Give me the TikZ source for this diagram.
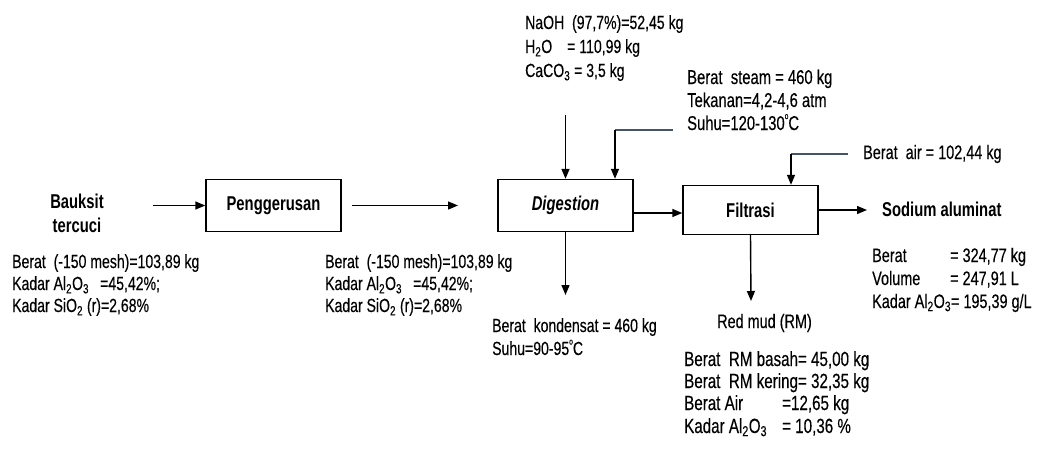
\documentclass[tikz,border=0pt]{standalone}
\usepackage{fontspec}
\setmainfont{Liberation Sans}[FakeStretch=0.74, UprightFeatures={FakeBold=0.3}]
\usetikzlibrary{arrows.meta}
\definecolor{linec}{RGB}{68,84,106}
\newcommand{\tline}[5]{\node[txt=#4] (#1) at (#2,#3) {#5};}
\newcommand{\AlO}{Al\textsubscript{2}O\textsubscript{3}}
\newcommand{\dgr}{\raisebox{0.55em}{\fontsize{9}{9}\selectfont o}}
\tikzset{
  txt/.style={anchor=base west, inner sep=0pt, font=\fontsize{#1}{22}\selectfont},
  hdr/.style={anchor=base, inner sep=0pt, font=\fontsize{20}{22}\selectfont\bfseries},
  proc/.style={draw, line width=1.4pt, minimum width=135pt, minimum height=52pt, inner sep=0pt, font=\fontsize{20}{22}\selectfont\bfseries},
  flow/.style={line width=1.4pt, -{Triangle[length=10pt,width=8pt]}},
  feed/.style={line width=1.4pt, draw=linec},
}
\begin{document}
\begin{tikzpicture}[x=1pt,y=-1pt]
\useasboundingbox[fill=white] (0,0) rectangle (1037,459);
% process boxes
\node[proc] (pg) at (273.5,205.5) {Penggerusan};
\node[proc] (dg) at (565.5,205.5) {\itshape Digestion};
\node[proc, minimum height=49pt] (fl) at (750.5,210) {Filtrasi};
% headers
\node[hdr] (bk1) at (77,208) {Bauksit};
\node[hdr] (bk2) at (77,232) {tercuci};
\node[hdr, anchor=west] (sa) at (882,209) {Sodium aluminat};
% coordinates
\coordinate (bs) at (153,205.5);
\coordinate (p1) at (352,205.5);
\coordinate (p2) at (458,205.5);
\coordinate (n1) at (565.5,115);
\coordinate (s1) at (673,130);
\coordinate (s2) at (615,130);
\coordinate (a1) at (848,154);
\coordinate (a2) at (791,154);
\coordinate (kd) at (565.5,295);
\coordinate (rmc) at (751,301);
% connectors
\draw[flow] (bs) -- (pg.west);
\draw[flow] (p1) -- (p2);
\draw[flow] (n1) -- (dg.north);
\draw[feed] (s1) -- (s2);
\draw[flow] (s2) -- (s2 |- dg.north);
\draw[flow] ([yshift=-7.5pt]dg.east) -- ([yshift=-7.5pt]dg.east -| fl.west);
\draw[feed] (a1) -- (a2);
\draw[flow] (a2) -- (a2 |- fl.north);
\draw[flow, shorten >=15pt] (fl.east) -- (fl.east -| sa.west);
\draw[flow] (dg.south) -- (kd);
\draw[flow] (fl.south) -- (rmc);
% left data
\tline{l1}{12}{268}{19}{Berat\ \ (-150 mesh)=103,89 kg}
\tline{l2}{12}{290}{19}{\makebox[88pt][l]{Kadar \AlO}=45,42\%;}
\tline{l3}{12}{312}{19}{Kadar SiO\textsubscript{2} (r)=2,68\%}
% middle data
\tline{m1}{325}{268}{19}{Berat\ \ (-150 mesh)=103,89 kg}
\tline{m2}{325}{290}{19}{\makebox[88pt][l]{Kadar \AlO}=45,42\%;}
\tline{m3}{325}{312}{19}{Kadar SiO\textsubscript{2} (r)=2,68\%}
% NaOH feed
\tline{n1t}{525}{29}{19}{NaOH\ \ (97,7\%)=52,45 kg}
\tline{n2t}{525}{53}{19}{\makebox[42pt][l]{H\textsubscript{2}O}= 110,99 kg}
\tline{n3t}{525}{77}{19}{CaCO\textsubscript{3} = 3,5 kg}
% steam
\tline{s1t}{687}{84}{20}{Berat\ \ steam = 460 kg}
\tline{s2t}{687}{107}{20}{Tekanan=4,2-4,6 atm}
\tline{s3t}{687}{130}{20}{Suhu=120-130\dgr C}
% air
\tline{at}{863}{159}{19.5}{Berat\ \ air = 102,44 kg}
% condensate
\tline{k1}{492}{332}{19}{Berat\ \ kondensat = 460 kg}
\tline{k2}{492}{355}{19}{Suhu=90-95\dgr C}
% red mud
\tline{rm}{717}{328}{19.5}{Red mud (RM)}
\tline{r1}{684}{366}{20.5}{Berat\ \ RM basah= 45,00 kg}
\tline{r2}{684}{388}{20.5}{Berat\ \ RM kering= 32,35 kg}
\tline{r3}{684}{410}{20.5}{\makebox[98pt][l]{Berat Air}=12,65 kg}
\tline{r4}{684}{433}{20.5}{\makebox[98pt][l]{Kadar \AlO}= 10,36 \%}
% sodium aluminate data
\tline{d1}{872}{262}{19.5}{\makebox[78pt][l]{Berat}= 324,77 kg}
\tline{d2}{872}{285}{19.5}{\makebox[78pt][l]{Volume}= 247,91 L}
\tline{d3}{872}{308}{19.5}{Kadar \AlO= 195,39 g/L}
\end{tikzpicture}
\end{document}
